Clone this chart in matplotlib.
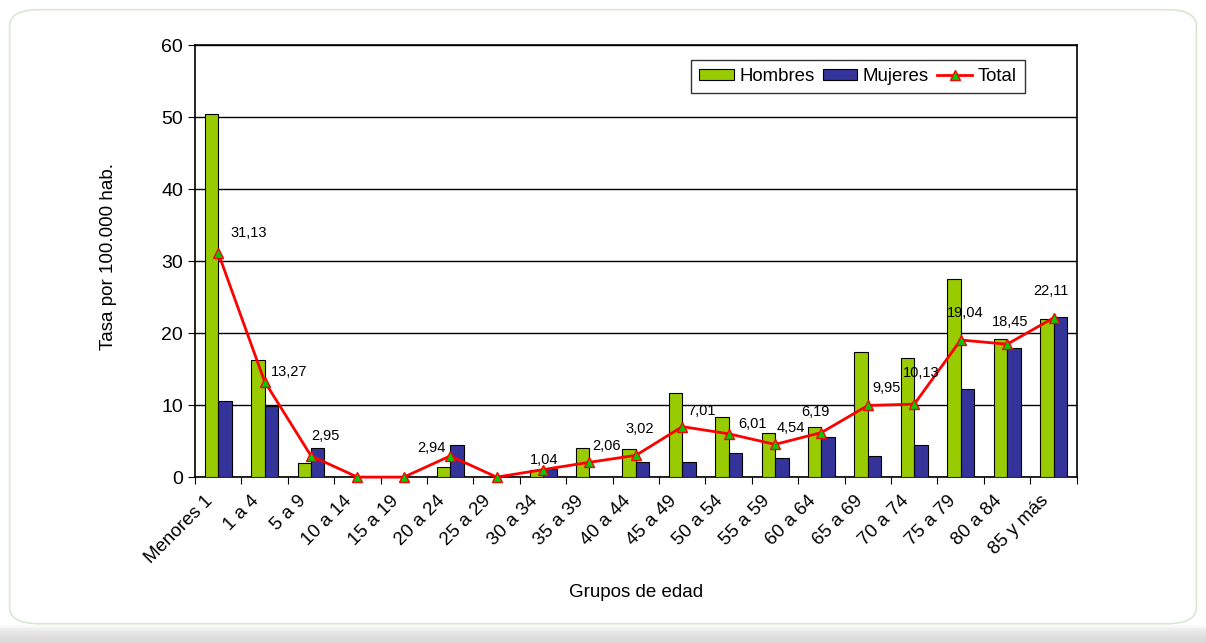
import numpy as np
import matplotlib
matplotlib.use("Agg")
import matplotlib.pyplot as plt
from matplotlib.patches import FancyBboxPatch, Rectangle

plt.rcParams['font.family'] = ['Liberation Sans', 'DejaVu Sans']

# ---- data ----
grupos = ['Menores 1', '1 a 4', '5 a 9', '10 a 14', '15 a 19', '20 a 24',
          '25 a 29', '30 a 34', '35 a 39', '40 a 44', '45 a 49', '50 a 54',
          '55 a 59', '60 a 64', '65 a 69', '70 a 74', '75 a 79', '80 a 84',
          '85 y más']
hombres = [50.4, 16.3, 1.9, 0, 0, 1.4, 0, 1.0, 4.0, 3.9, 11.7, 8.4,
           6.1, 6.9, 17.4, 16.5, 27.5, 19.2, 21.9]
mujeres = [10.6, 9.9, 4.1, 0, 0, 4.5, 0, 1.1, 0, 2.1, 2.1, 3.3,
           2.7, 5.5, 3.0, 4.5, 12.2, 17.9, 22.2]
total = [31.13, 13.27, 2.95, 0, 0, 2.94, 0, 1.04, 2.06, 3.02, 7.01, 6.01,
         4.54, 6.19, 9.95, 10.13, 19.04, 18.45, 22.11]

# labelled points: offset (pixels) of the text's left edge / vertical centre
etiquetas = {0: (12, 20), 1: (6, 10), 2: (0, 20), 5: (-33, 8), 7: (-13, 10),
             8: (3, 16), 9: (-10, 26), 10: (5, 16), 11: (10, 10), 12: (2, 16),
             13: (-20, 21), 14: (4, 17), 15: (-11, 31), 16: (-14, 27),
             17: (-15, 22), 18: (-20, 27)}

verde = '#99CC00'
azul = '#333399'
rojo = '#FF0000'

fig = plt.figure(figsize=(12.06, 6.43), dpi=100)

# rounded frame around the chart + grey band at the bottom
marco = FancyBboxPatch((0.008, 0.03), 0.984, 0.955,
                       boxstyle='round,pad=0,rounding_size=0.025',
                       transform=fig.transFigure, facecolor='white',
                       edgecolor='#d8e8d0', linewidth=1.2, zorder=-2)
fig.patches.append(marco)
for k in range(10):
    fig.patches.append(Rectangle((0, 0), 1, 0.028 - k * 0.0025,
                                 transform=fig.transFigure,
                                 facecolor='#d0d0d0', alpha=0.12,
                                 edgecolor='none', zorder=-3))

ax = fig.add_axes([0.1617, 0.258, 0.7311, 0.672])
ax.set_zorder(1)
x = np.arange(len(grupos))
w = 0.29
b1 = ax.bar(x - w / 2, hombres, w, color=verde, edgecolor='black',
            linewidth=0.8, label='Hombres', zorder=3)
b2 = ax.bar(x + w / 2, mujeres, w, color=azul, edgecolor='black',
            linewidth=0.8, label='Mujeres', zorder=3)
l1, = ax.plot(x, total, color=rojo, linewidth=2, marker='^', markersize=7,
              markerfacecolor='#00CC00', markeredgecolor=rojo,
              markeredgewidth=1, label='Total', zorder=4, clip_on=False)

for i, (dx, dy) in etiquetas.items():
    ax.annotate(f'{total[i]:.2f}'.replace('.', ','), (x[i], total[i]),
                xytext=(dx, dy), textcoords='offset pixels',
                ha='left', va='center', fontsize=10.5, zorder=5)

ax.set_xlim(-0.5, len(grupos) - 0.5)
ax.set_ylim(0, 60)
ax.set_yticks(range(0, 61, 10))
ax.yaxis.grid(True, color='black', linewidth=1)
ax.set_axisbelow(True)
ax.set_xticks(np.arange(-0.5, len(grupos), 1))
ax.set_xticklabels([])
# rotated category labels, anchored a little left of each group centre
ax.set_xticks(x - 0.3, minor=True)
ax.set_xticklabels(grupos, minor=True, rotation=45, ha='right',
                   rotation_mode='anchor', fontsize=13.5)
ax.tick_params(axis='x', which='minor', length=0, pad=11)
ax.tick_params(axis='x', which='major', length=5, direction='out')
ax.tick_params(axis='y', labelsize=14, length=5)
for s in ax.spines.values():
    s.set_linewidth(1.2)

ax.set_ylabel('Tasa por 100.000 hab.', fontsize=13.5)
ax.yaxis.set_label_coords(-0.088, 0.51)
ax.set_xlabel('Grupos de edad', fontsize=13.5)
ax.xaxis.set_label_coords(0.5, -0.247)

leg = ax.legend([b1, b2, l1], ['Hombres', 'Mujeres', 'Total'],
                loc='upper right', ncol=3, bbox_to_anchor=(0.941, 0.966),
                fontsize=13.4, frameon=True, fancybox=False,
                handlelength=1.85, handleheight=0.6, handletextpad=0.3,
                columnspacing=0.45, borderpad=0.45, borderaxespad=0)
leg.get_frame().set_edgecolor('black')
leg.get_frame().set_linewidth(1)

fig.savefig('out.png', dpi=100)
